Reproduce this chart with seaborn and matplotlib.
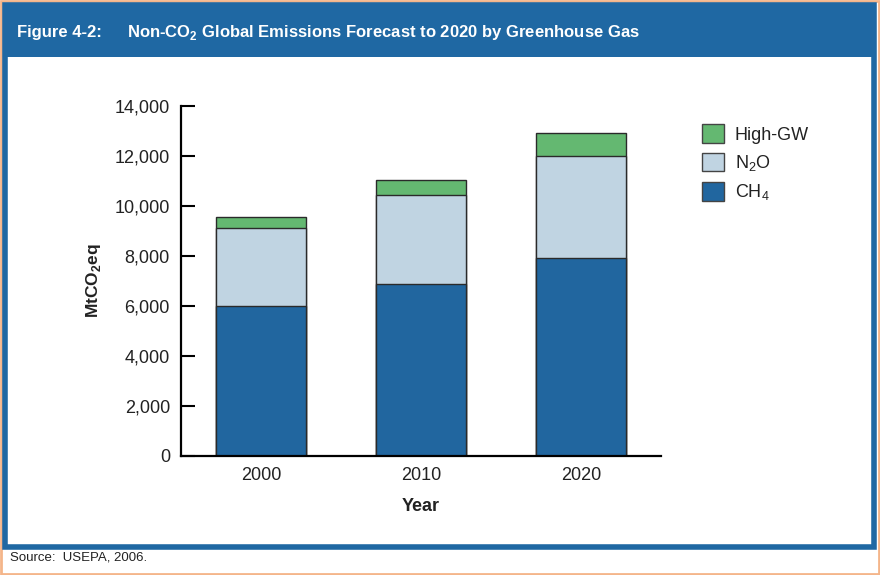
import numpy as np
import pandas as pd
import seaborn as sns
import matplotlib.pyplot as plt
from matplotlib.patches import Rectangle
from matplotlib.ticker import FuncFormatter, FixedLocator

years = ["2000", "2010", "2020"]
ch4 = [6020, 6880, 7940]
n2o = [3110, 3560, 4060]
high_gw = [430, 600, 930]

sns.set_style("white")
plt.rcParams['font.family'] = ['Liberation Sans', 'DejaVu Sans']
plt.rcParams['mathtext.fontset'] = 'custom'
plt.rcParams['mathtext.rm'] = 'Liberation Sans'
plt.rcParams['mathtext.bf'] = 'Liberation Sans:bold'

W, H = 880, 575
fig = plt.figure(figsize=(W / 100, H / 100), dpi=100)


def px(x0, y0, x1, y1):
    # pixel box (top-left origin) -> figure fraction rect
    return (x0 / W, 1 - y1 / H, (x1 - x0) / W, (y1 - y0) / H)


def box(x0, y0, x1, y1, **kw):
    l, b, w, h = px(x0, y0, x1, y1)
    fig.patches.append(Rectangle((l, b), w, h, transform=fig.transFigure, zorder=-10, **kw))


blue = "#1f68a3"
box(1, 1, 879, 574, facecolor="white", edgecolor="#f4b58a", lw=2)
box(5, 5, 874, 547, facecolor="white", edgecolor=blue, lw=4)
box(5, 5, 874, 57, facecolor=blue, edgecolor=blue, lw=0)

fig.text(17 / W, 1 - 32 / H, "Figure 4-2:", color="white", fontsize=12,
         fontweight="bold", va="center")
fig.text(127 / W, 1 - 32 / H,
         r"Non-CO$_\mathbf{2}$ Global Emissions Forecast to 2020 by Greenhouse Gas",
         color="white", fontsize=12, fontweight="bold", va="center")
fig.text(10 / W, 1 - 558 / H, "Source:  USEPA, 2006.", color="#222222",
         fontsize=9.5, va="center")

ax = fig.add_axes(px(181, 106, 661, 456))

df = pd.DataFrame({"Year": years, "CH4": ch4, "N2O": n2o, "HighGW": high_gw})
df["top_n2o"] = df["CH4"] + df["N2O"]
df["total"] = df["top_n2o"] + df["HighGW"]

c_ch4, c_n2o, c_gw = "#21669f", "#c0d4e2", "#64b871"
kw = dict(width=0.56, edgecolor="#2a2a2a", linewidth=1.0, ax=ax)
sns.barplot(data=df, x="Year", y="total", color=c_gw, saturation=1, label="High-GW", **kw)
sns.barplot(data=df, x="Year", y="top_n2o", color=c_n2o, saturation=1, label=r"N$_2$O", **kw)
sns.barplot(data=df, x="Year", y="CH4", color=c_ch4, saturation=1, label=r"CH$_4$", **kw)

ax.set_xlim(-0.5, 2.5)
ax.set_ylim(0, 14000)
ax.set_yticks(np.arange(0, 14001, 2000))
ax.yaxis.set_major_formatter(FuncFormatter(lambda v, p: f"{int(v):,}"))
ax.xaxis.set_minor_locator(FixedLocator([0.5, 1.5, 2.5]))
ax.tick_params(axis="x", which="major", length=0, pad=8, labelsize=13, labelcolor="#222222")
ax.tick_params(axis="x", which="minor", length=8, width=1.5, direction="out", color="black")
ax.tick_params(axis="y", length=10, width=1.5, direction="in", color="black",
               labelsize=13, labelcolor="#222222", pad=8, left=True)
sns.despine(ax=ax, top=True, right=True)
for s in ["left", "bottom"]:
    ax.spines[s].set_linewidth(1.6)
    ax.spines[s].set_color("black")
ax.set_xlabel("Year", fontsize=13, fontweight="bold", color="#222222", labelpad=10)
ax.set_ylabel(r"MtCO$_\mathbf{2}$eq", fontsize=12.5, fontweight="bold", color="#222222", labelpad=8)

leg = fig.legend(*ax.get_legend_handles_labels(), loc="upper left",
                 bbox_to_anchor=(686 / W, 1 - 108 / H), frameon=False,
                 fontsize=13, handlelength=1.2, handleheight=1.2, handletextpad=0.6,
                 labelspacing=0.5, labelcolor="#222222")
for h in leg.legend_handles:
    h.set_edgecolor("#444444")
    h.set_linewidth(1.0)
if ax.get_legend():
    ax.get_legend().remove()

fig.savefig("out.png", dpi=100)
